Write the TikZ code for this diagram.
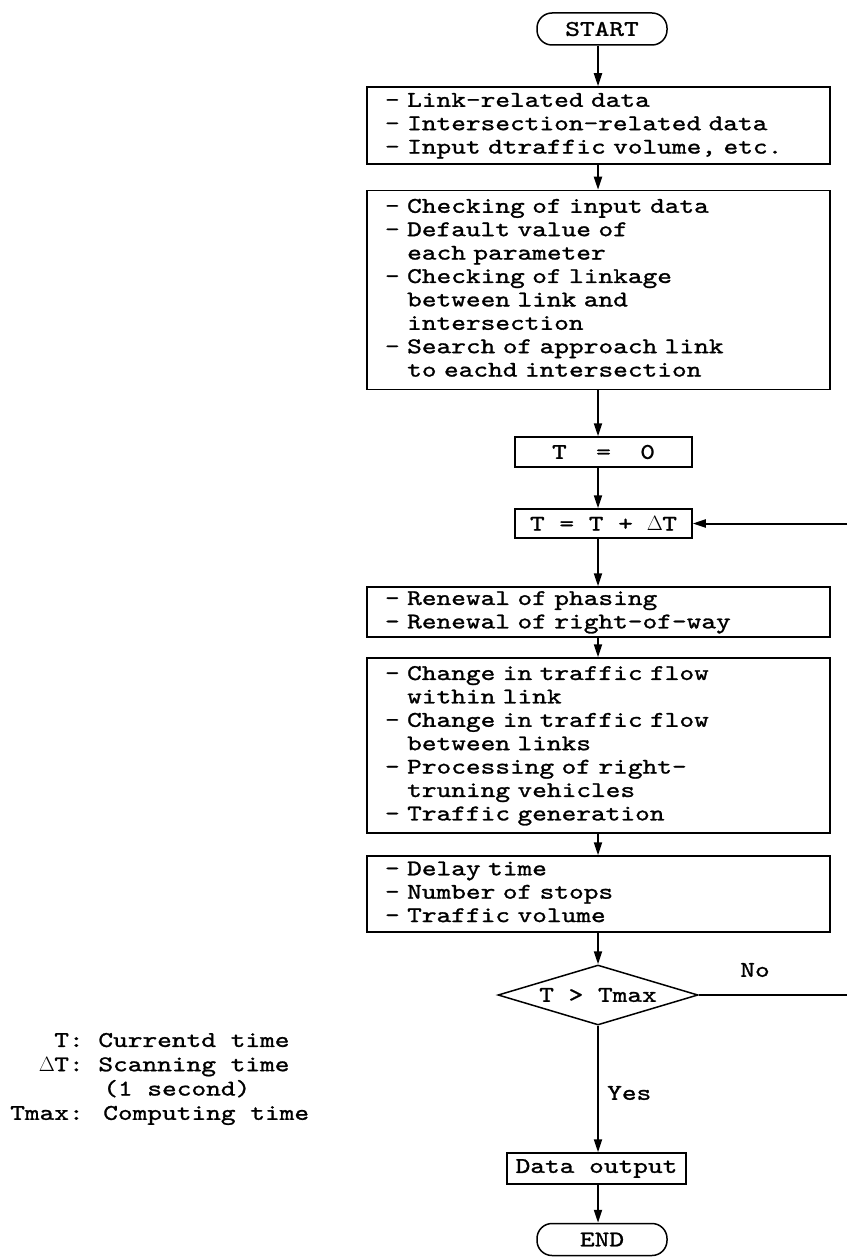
\documentclass[tikz,border=0pt]{standalone}
\usepackage{fontspec}
\newfontfamily\tw[FakeStretch=1.25,FakeBold=1.2]{lmmono10-regular.otf}
\usetikzlibrary{arrows.meta,shapes.geometric}
\newcommand\twsize[2]{\fontsize{#1}{#2}\tw
  \fontdimen2\font=\fontcharwd\font`x\relax
  \fontdimen3\font=0pt\relax\fontdimen4\font=0pt\relax}
\newcommand\bl[1]{\mbox{\strut#1}}
\newcommand\ind{\hphantom{- }}
\newcommand\dT{\makebox[\fontcharwd\font`T][c]{$\Delta$}T}
\tikzset{
  every node/.style={font=\twsize{22.4pt}{23.4pt}},
  procbox/.style={draw, line width=1.5pt, rectangle, minimum width=463pt,
    text width=427pt, inner xsep=18pt, inner ysep=0pt, align=left},
  smallbox/.style={draw, line width=1.5pt, rectangle, inner sep=0pt},
  pill/.style={draw, line width=1.5pt, rectangle, rounded corners=15pt,
    minimum width=130pt, minimum height=32pt, inner sep=0pt},
  decision/.style={draw, line width=1.5pt, diamond, aspect=3.33,
    minimum width=200pt, minimum height=60pt, inner sep=0pt},
  arr/.style={line width=2pt, -{Triangle[length=13pt,width=8pt]}},
  flow/.style={line width=2pt},
  lbl/.style={inner sep=0pt}
}
\begin{document}
\begin{tikzpicture}[x=1pt,y=-1pt]
\useasboundingbox (0,0) rectangle (847,1257);
\coordinate (col) at (598,0);

\node[pill] (start) at (602,29) {START};

\node[procbox, minimum height=77pt] (b1) at (598.5,125.5)
  {\bl{- Link-related data}\\
   \bl{- Intersection-related data}\\
   \bl{- Input dtraffic volume, etc.}};

\node[procbox, minimum height=199pt] (b2) at (598.5,290)
  {\bl{- Checking of input data}\\
   \bl{- Default value of}\\
   \bl{\ind each parameter}\\
   \bl{- Checking of linkage}\\
   \bl{\ind between link and}\\
   \bl{\ind intersection}\\
   \bl{- Search of approach link}\\
   \bl{\ind to eachd intersection}};

\node[smallbox, minimum width=177pt, minimum height=30pt] (t0) at (603.5,452)
  {T\hphantom{xx}=\hphantom{xx}0};

\node[smallbox, minimum width=177pt, minimum height=29pt] (tdt) at (603.5,523.5)
  {T = T + \dT};

\node[procbox, minimum height=50pt] (b3) at (598.5,612)
  {\bl{- Renewal of phasing}\\
   \bl{- Renewal of right-of-way}};

\node[procbox, minimum height=175pt] (b4) at (598.5,745.5)
  {\bl{- Change in traffic flow}\\
   \bl{\ind within link}\\
   \bl{- Change in traffic flow}\\
   \bl{\ind between links}\\
   \bl{- Processing of right-}\\
   \bl{\ind truning vehicles}\\
   \bl{- Traffic generation}};

\node[procbox, minimum height=76pt] (b5) at (598.5,894)
  {\bl{- Delay time}\\
   \bl{- Number of stops}\\
   \bl{- Traffic volume}};

\node[decision] (dec) at (598,995) {T > Tmax};

\node[smallbox, minimum width=179pt, minimum height=31pt] (data) at (596.5,1168.5)
  {Data output};

\node[pill] (endn) at (602,1239.5) {END};

\node[lbl] (no) at (755,970) {No};
\node[lbl, anchor=west] (yes) at (607,1093) {Yes};

\node[lbl, anchor=west, align=left, font=\twsize{22.4pt}{24.3pt}] (legend) at (10,1078.5)
  {\bl{\hphantom{Tma}T: Currentd time}\\
   \bl{\hphantom{Tm}\dT: Scanning time}\\
   \bl{\hphantom{Tmax: }(1 second)}\\
   \bl{Tmax: Computing time}};

\coordinate (noend) at (847,995);
\coordinate (fbstart) at (847,523.5);

\draw[arr] (start.south -| col) -- (b1.north -| col);
\draw[arr] (b1.south -| col) -- (b2.north -| col);
\draw[arr] (b2.south -| col) -- (t0.north -| col);
\draw[arr] (t0.south -| col) -- (tdt.north -| col);
\draw[arr] (tdt.south -| col) -- (b3.north -| col);
\draw[arr] (b3.south -| col) -- (b4.north -| col);
\draw[arr] (b4.south -| col) -- (b5.north -| col);
\draw[arr] (b5.south -| col) -- (dec.north);
\draw[arr] (dec.south) -- (data.north -| dec.south);
\draw[arr] (data.south -| col) -- (endn.north -| col);
\draw[flow] (dec.east) -- (noend);
\draw[arr] (fbstart) -- (tdt.east);
\end{tikzpicture}
\end{document}
